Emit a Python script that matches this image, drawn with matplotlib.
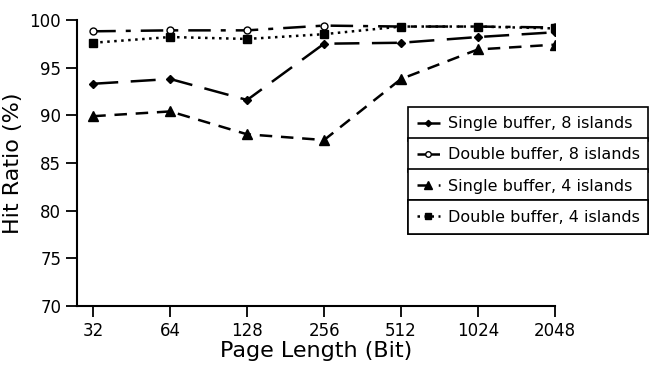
import matplotlib
matplotlib.use("Agg")
import matplotlib.pyplot as plt

# Data
page_lengths = ["32", "64", "128", "256", "512", "1024", "2048"]
single_8 = [93.3, 93.8, 91.6, 97.5, 97.6, 98.2, 98.7]
double_8 = [98.8, 98.9, 98.9, 99.4, 99.3, 99.3, 99.2]
single_4 = [89.9, 90.4, 88.0, 87.4, 93.8, 96.9, 97.4]
double_4 = [97.6, 98.2, 98.0, 98.5, 99.3, 99.3, 99.1]
labels = ["Single buffer, 8 islands", "Double buffer, 8 islands",
          "Single buffer, 4 islands", "Double buffer, 4 islands"]

plt.rcParams['font.family'] = ['DejaVu Sans']

fig = plt.figure(figsize=(6.59, 3.82), dpi=100)
ax = fig.add_axes([0.117, 0.199, 0.725, 0.749])

x = range(len(page_lengths))
h1, = ax.plot(x, single_8, color='black', lw=1.8, dashes=(10, 5),
              marker='D', ms=4)
h2, = ax.plot(x, double_8, color='black', lw=1.8, dashes=(9, 4, 2, 4),
              marker='o', ms=5, mfc='white', mew=1.0)
h3, = ax.plot(x, single_4, color='black', lw=1.8, dashes=(5, 3.5),
              marker='^', ms=7)
h4, = ax.plot(x, double_4, color='black', lw=1.8, dashes=(1, 1.8),
              marker='s', ms=6)

ax.set_xlim(-0.21, 6)
ax.set_ylim(70, 100)
ax.set_xticks(list(x))
ax.set_xticklabels(page_lengths)
ax.set_yticks(range(70, 101, 5))
ax.spines['top'].set_visible(False)
ax.spines['right'].set_visible(False)
ax.spines['left'].set_linewidth(1.5)
ax.spines['bottom'].set_linewidth(1.5)
ax.tick_params(axis='both', direction='out', length=8, width=1.3,
               labelsize=12)
ax.set_xlabel("Page Length (Bit)", fontsize=16, labelpad=1)
ax.set_ylabel("Hit Ratio (%)", fontsize=16, labelpad=5)

# legend: one boxed row per series, stacked, all the same width
handles = [h1, h2, h3, h4]
row_h = 31 / 286
top = (306 - 107) / 286
for i, (hd, lb) in enumerate(zip(handles, labels)):
    leg = ax.legend([hd], [lb], loc='upper left',
                    bbox_to_anchor=(0.692, top - i * row_h, 0.502, 0.0),
                    mode='expand',
                    frameon=True, fancybox=False, edgecolor='black',
                    framealpha=1, fontsize=11.5, handlelength=1.4,
                    handletextpad=0.5, borderpad=0.6, borderaxespad=0,
                    markerscale=0.8)
    leg.get_frame().set_linewidth(1.2)
    leg.set_clip_on(False)
    ax.add_artist(leg)

fig.savefig("out.png", dpi=100)
